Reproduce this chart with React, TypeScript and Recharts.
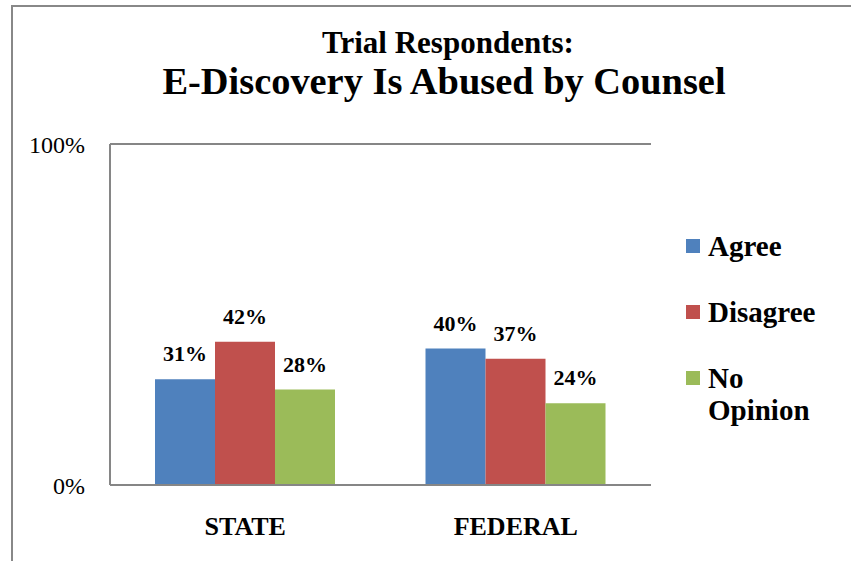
import { BarChart, Bar, XAxis, YAxis, CartesianGrid, Legend, LabelList } from 'recharts'

const categories = ['STATE', 'FEDERAL']
const agree = [31, 40]
const disagree = [42, 37]
const noOpinion = [28, 24]
const yTicks = [0, 100]

const serif = '"Liberation Serif", "Times New Roman", serif'
const axisGray = '#868686'

const data = categories.map((name, i) => ({
  name,
  agree: agree[i],
  disagree: disagree[i],
  noOpinion: noOpinion[i],
}))

const labelProps = { position: 'top' as const, offset: 18, fontSize: 22, fontWeight: 700, fill: '#000', fontFamily: serif }

// eslint-disable-next-line @typescript-eslint/no-explicit-any
function LegendBox({ payload }: any) {
  return (
    <div style={{ fontFamily: serif, fontSize: 29, fontWeight: 700, lineHeight: '32px', color: '#000' }}>
      {/* eslint-disable-next-line @typescript-eslint/no-explicit-any */}
      {(payload || []).map((p: any, i: number) => (
        <div key={i} style={{ display: 'flex', alignItems: 'flex-start', marginBottom: 34 }}>
          <span style={{ width: 14, height: 14, background: p.color, marginTop: 9, marginRight: 8, flexShrink: 0 }} />
          <span style={{ width: 130 }}>{p.value}</span>
        </div>
      ))}
    </div>
  )
}

export default function App() {
  return (
    <div style={{ position: 'absolute', left: 0, top: 0, width: 851, height: 561, background: '#fff', overflow: 'hidden' }}>
      <div style={{ position: 'absolute', left: 11, top: 5, width: 900, height: 600, borderLeft: '2px solid #888', borderTop: '2px solid #888' }} />
      <div style={{ position: 'absolute', left: 0, top: 27, width: 896, textAlign: 'center', fontFamily: serif, fontWeight: 700, fontSize: 31, lineHeight: '31px', color: '#000' }}>
        Trial Respondents:
      </div>
      <div style={{ position: 'absolute', left: 0, top: 62, width: 888, textAlign: 'center', fontFamily: serif, fontWeight: 700, fontSize: 38.4, lineHeight: '38px', color: '#000' }}>
        E-Discovery Is Abused by Counsel
      </div>
      <div style={{ position: 'absolute', left: 0, top: 0 }}>
        <BarChart width={851} height={561} data={data} barGap={0} margin={{ top: 144, right: 200, bottom: 26, left: 0 }}>
          <CartesianGrid vertical={false} stroke={axisGray} strokeWidth={2} />
          <XAxis dataKey="name" interval={0} tickLine={false} tickSize={0} tickMargin={32} height={50}
            axisLine={{ stroke: axisGray, strokeWidth: 2 }}
            tick={{ fontSize: 26, fontWeight: 700, fill: '#000', fontFamily: serif }} />
          <YAxis domain={[0, 100]} ticks={yTicks} tickFormatter={v => `${v}%`} width={110}
            tickLine={false} tickSize={0} tickMargin={25}
            axisLine={{ stroke: axisGray, strokeWidth: 2 }}
            tick={{ fontSize: 24, fill: '#000', fontFamily: serif }} />
          <Legend layout="vertical" align="center" verticalAlign="middle" content={LegendBox}
            wrapperStyle={{ left: 686, top: 230, width: 165 }} />
          <Bar dataKey="agree" name="Agree" fill="#4F81BD" barSize={60} isAnimationActive={false}>
            <LabelList dataKey="agree" formatter={(v: number) => `${v}%`} {...labelProps} />
          </Bar>
          <Bar dataKey="disagree" name="Disagree" fill="#C0504D" barSize={60} isAnimationActive={false}>
            <LabelList dataKey="disagree" formatter={(v: number) => `${v}%`} {...labelProps} />
          </Bar>
          <Bar dataKey="noOpinion" name="No Opinion" fill="#9BBB59" barSize={60} isAnimationActive={false}>
            <LabelList dataKey="noOpinion" formatter={(v: number) => `${v}%`} {...labelProps} />
          </Bar>
        </BarChart>
      </div>
    </div>
  )
}
